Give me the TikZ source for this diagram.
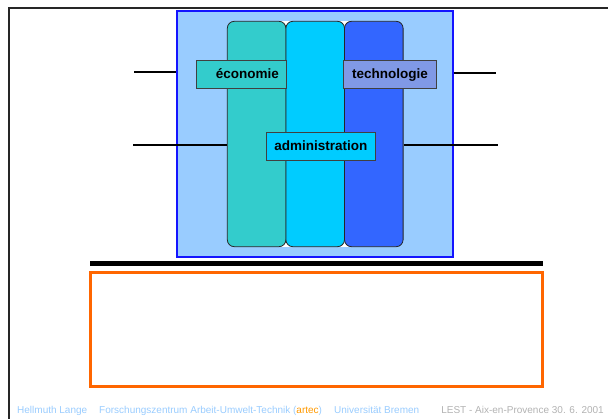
\documentclass[tikz,border=0pt]{standalone}
\usepackage{fontspec}
\setmainfont{Liberation Sans}
\usetikzlibrary{positioning}
\definecolor{bgBlue}{RGB}{153,204,255}
\definecolor{rimBlue}{RGB}{20,20,255}
\definecolor{ecoTeal}{RGB}{51,204,204}
\definecolor{admCyan}{RGB}{0,204,255}
\definecolor{tecBlue}{RGB}{51,102,255}
\definecolor{tecLabel}{RGB}{128,153,230}
\definecolor{lestOrange}{RGB}{255,102,0}
\definecolor{footBlue}{RGB}{153,204,255}
\definecolor{footOrange}{RGB}{255,153,0}
\definecolor{footGray}{RGB}{178,178,178}

\begin{document}
\begin{tikzpicture}[x=1pt,y=-1pt,
    pillar/.style={draw=black!85, line width=0.8pt, rounded corners=7pt,
        minimum width=58.6pt, minimum height=225.4pt, inner sep=0pt},
    labelbox/.style={draw=black!75, line width=0.8pt, minimum height=27.6pt,
        inner sep=0pt, text height=10pt, text depth=2.6pt,
        font=\fontsize{13.5}{16}\selectfont\bfseries},
    linkline/.style={line width=1.6pt},
    footnote/.style={anchor=base west, inner sep=0pt, font=\fontsize{10}{12}\selectfont}]

\useasboundingbox (0,0) rectangle (608,419);

%頁框
\draw[line width=1.6pt, black!85] (9,419) -- (9,8) -- (608,8);

%背景方框
\node[fill=bgBlue, draw=rimBlue, line width=1.8pt, minimum width=276pt,
    minimum height=246pt, inner sep=0pt] (bgBox) at (314.7,133.7) {};

%三根柱子
\foreach \x in {286,344.3}
{
    \fill[white] (\x-5,21.3) rectangle (\x+5,246.7);
}
\foreach \colName/\colFill [count=\i] in {colEco/ecoTeal, colAdm/admCyan, colTec/tecBlue}
{
    \node[pillar, fill=\colFill] (\colName) at (198+58.6*\i,134) {};
}

%連線
\coordinate (ecoLineL) at (134,72);
\coordinate (tecLineR) at (496,73.3);
\coordinate (admLineL) at (133,145.3);
\coordinate (admLineR) at (498,145.3);
\draw[linkline] (ecoLineL) -- (ecoLineL -| bgBox.west);
\draw[linkline] (bgBox.east |- tecLineR) -- (tecLineR);
\draw[linkline, line width=2.4pt] (admLineL) -- (admLineL -| colEco.west);
\draw[linkline, line width=2.4pt] (colTec.east |- admLineR) -- (admLineR);

%標籤
\node[labelbox, fill=ecoTeal, text width=75.3pt, inner xsep=7pt, align=right]
    (ecoLab) at (241.3,74.5) {économie};
\node[labelbox, fill=tecLabel, minimum width=93.4pt] (tecLab) at (390,74.5) {technologie};
\node[labelbox, fill=admCyan, minimum width=109.7pt] (admLab) at (320.8,146.5) {administration};

%下方
\coordinate (baseL) at (90,264);
\coordinate (baseR) at (543,264);
\draw[line width=5pt] (baseL) -- (baseR);
\draw[lestOrange, line width=3.6pt] (90.5,272.5) rectangle (542.5,386.5);

%頁腳
\node[footnote, text=footBlue] (footName) at (17,414) {Hellmuth Lange};
\node[footnote, text=footBlue] (footInst) at (99,414)
    {Forschungszentrum Arbeit-Umwelt-Technik (\textcolor{footOrange}{artec})};
\node[footnote, text=footBlue] (footUni) at (334,414) {Universität Bremen};
\node[footnote, text=footGray, anchor=base east] (footConf) at (604,414)
    {LEST - Aix-en-Provence 30. 6. 2001};

\end{tikzpicture}
\end{document}
